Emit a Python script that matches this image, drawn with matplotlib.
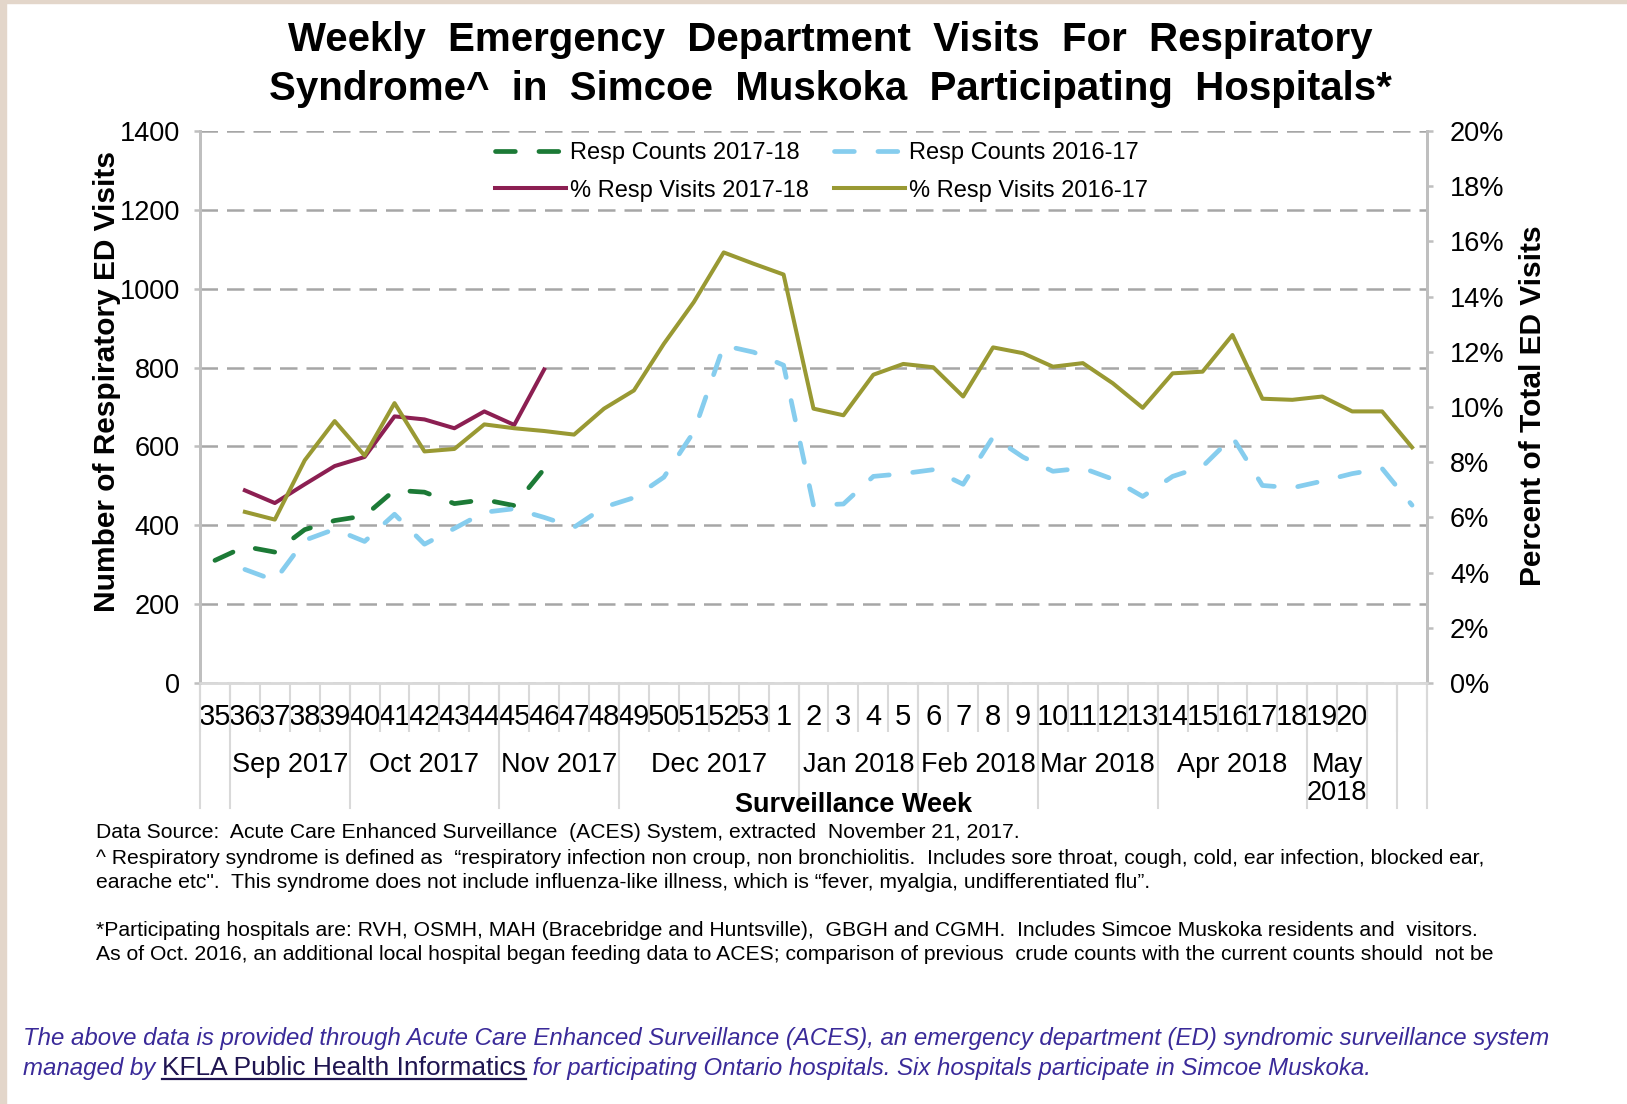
import numpy as np
import matplotlib
matplotlib.use('Agg')
import matplotlib.pyplot as plt
import matplotlib.transforms as mtransforms
from matplotlib.lines import Line2D
from matplotlib.patches import Rectangle

plt.rcParams['font.family'] = ['Liberation Sans', 'DejaVu Sans']

nan = np.nan

# surveillance weeks (last two columns carry no label)
weeks = ['35', '36', '37', '38', '39', '40', '41', '42', '43', '44', '45', '46', '47',
         '48', '49', '50', '51', '52', '53', '1', '2', '3', '4', '5', '6', '7', '8',
         '9', '10', '11', '12', '13', '14', '15', '16', '17', '18', '19', '20', '', '']

# month groups and how many weeks fall in each
months = ['', 'Sep 2017', 'Oct 2017', 'Nov 2017', 'Dec 2017', 'Jan 2018', 'Feb 2018',
          'Mar 2018', 'Apr 2018', 'May\n2018', '', '']
month_weeks = [1, 4, 5, 4, 6, 4, 4, 4, 5, 2, 1, 1]

counts_1718 = [311, 346, 332, 389, 412, 424, 489, 484, 455, 465, 450, 543] + [nan] * 29

counts_1617 = [nan, 288, 260, 362, 390, 359, 428, 352, 392, 433, 442, 420, 395, 446,
               470, 522, 637, 856, 839, 806, 451, 454, 524, 531, 541, 504, 624, 573,
               537, 545, 517, 473, 524, 549, 624, 501, 495, 512, 531, 544, 451]

pct_1718 = [nan, 6.98, 6.52, 7.2, 7.86, 8.19, 9.66, 9.55, 9.23, 9.84, 9.35, 11.36] + [nan] * 29

pct_1617 = [nan, 6.2, 5.92, 8.07, 9.49, 8.24, 10.14, 8.39, 8.48, 9.37, 9.23, 9.13, 9.0,
            9.94, 10.6, 12.29, 13.8, 15.6, 15.19, 14.8, 9.94, 9.7, 11.17, 11.56, 11.44,
            10.38, 12.16, 11.95, 11.46, 11.59, 10.86, 9.97, 11.22, 11.28, 12.61, 10.3,
            10.26, 10.38, 9.84, 9.84, 8.54]

W, H = 1627, 1104
fig = plt.figure(figsize=(W / 100, H / 100), dpi=100)

# beige frame on the left and top edge
fig.patches.append(Rectangle((0, 0), 6 / W, 1, transform=fig.transFigure, color='#e3d6ca', zorder=0))
fig.patches.append(Rectangle((0, 1 - 3 / H), 1, 3 / H, transform=fig.transFigure, color='#e3d6ca', zorder=0))

L, R, T, B = 200, 1427, 131, 683
ax = fig.add_axes([L / W, 1 - B / H, (R - L) / W, (B - T) / H])
ax2 = ax.twinx()

x = np.arange(len(weeks))
green = '#1c7a36'
blue = '#86cdee'
maroon = '#8c1f52'
olive = '#999933'

l1, = ax.plot(x, counts_1718, color=green, lw=3.4, dashes=(4.2, 5.0), dash_capstyle='round',
              label='Resp Counts 2017-18', zorder=3)
l2, = ax.plot(x, counts_1617, color=blue, lw=3.4, dashes=(4.2, 5.0), dash_capstyle='round',
              label='Resp Counts 2016-17', zorder=3)
l3, = ax2.plot(x, pct_1718, color=maroon, lw=2.9, label='% Resp Visits 2017-18', zorder=3)
l4, = ax2.plot(x, pct_1617, color=olive, lw=2.9, label='% Resp Visits 2016-17', zorder=3)

ax.set_xlim(-0.5, len(weeks) - 0.5)
ax.set_ylim(0, 1400)
ax2.set_ylim(0, 20)
ax.set_yticks(range(0, 1401, 200))
ax2.set_yticks(range(0, 21, 2))
ax2.set_yticklabels([f'{v}%' for v in range(0, 21, 2)])

ax.grid(axis='y', color='#a6a6a6', lw=1.8, linestyle=(0, (7, 3.6)))
ax.set_axisbelow(True)

for a in (ax, ax2):
    a.spines['top'].set_visible(False)
    a.spines['left'].set_color('#bfbfbf')
    a.spines['right'].set_color('#bfbfbf')
    a.spines['left'].set_linewidth(2)
    a.spines['right'].set_linewidth(2)
    a.spines['bottom'].set_color('#d9d9d9')
    a.spines['bottom'].set_linewidth(1.8)
ax.tick_params(axis='y', direction='out', length=4.5, width=1.8, color='#bfbfbf',
               labelsize=19.5, pad=10, labelcolor='black')
ax2.tick_params(axis='y', direction='out', length=4.5, width=1.8, color='#bfbfbf',
                labelsize=19.5, pad=12, labelcolor='black')

# week labels with short separators between categories
ax.set_xticks(x)
ax.set_xticklabels(weeks)
ax.tick_params(axis='x', which='major', length=0, labelsize=21, pad=14.5)
ax.set_xticks(np.arange(len(weeks) + 1) - 0.5, minor=True)
ax.tick_params(axis='x', which='minor', length=35, width=1.5, color='#d9d9d9', direction='out')

# month group labels and long separators
trans = mtransforms.blended_transform_factory(ax.transData, ax.transAxes)
edges = np.concatenate([[0], np.cumsum(month_weeks)]) - 0.5
for e in edges:
    ax.add_line(Line2D([e, e], [0, -125 / (B - T)], transform=trans, color='#d9d9d9',
                       lw=1.5, clip_on=False))
for name, a0, a1 in zip(months, edges[:-1], edges[1:]):
    if name:
        ax.text((a0 + a1) / 2, -69 / (B - T), name, transform=trans, ha='center', va='top',
                fontsize=19.5, linespacing=1.1)

fig.text(854 / W, 1 - 805 / H, 'Surveillance Week', ha='center', va='center',
         fontsize=19.5, fontweight='bold')
fig.text(107 / W, 1 - 382 / H, 'Number of Respiratory ED Visits', rotation=90,
         ha='center', va='center', fontsize=21.5, fontweight='bold')
fig.text(1533 / W, 1 - 406 / H, 'Percent of Total ED Visits', rotation=90,
         ha='center', va='center', fontsize=21.5, fontweight='bold')

fig.text(830 / W, 1 - 40 / H, 'Weekly  Emergency  Department  Visits  For  Respiratory',
         ha='center', va='center', fontsize=29, fontweight='bold')
fig.text(830 / W, 1 - 89 / H, 'Syndrome^  in  Simcoe  Muskoka  Participating  Hospitals*',
         ha='center', va='center', fontsize=29, fontweight='bold')

leg = ax2.legend(handles=[l1, l3, l2, l4], ncol=2, loc='upper left', frameon=False,
                 bbox_to_anchor=(281 / (R - L), 1.005), fontsize=17, handlelength=3.0,
                 handletextpad=0.15, columnspacing=1.1, labelspacing=0.65, borderaxespad=0.2)

notes = [
    (833, 'Data Source:  Acute Care Enhanced Surveillance  (ACES) System, extracted  November 21, 2017.'),
    (858, '^ Respiratory syndrome is defined as  \u201crespiratory infection non croup, non bronchiolitis.  Includes sore throat, cough, cold, ear infection, blocked ear,'),
    (882, 'earache etc".  This syndrome does not include influenza-like illness, which is \u201cfever, myalgia, undifferentiated flu\u201d.'),
    (931, '*Participating hospitals are: RVH, OSMH, MAH (Bracebridge and Huntsville),  GBGH and CGMH.  Includes Simcoe Muskoka residents and  visitors.'),
    (955, 'As of Oct. 2016, an additional local hospital began feeding data to ACES; comparison of previous  crude counts with the current counts should  not be'),
]
for yy, s in notes:
    fig.text(96 / W, 1 - yy / H, s, ha='left', va='center', fontsize=15.2)

navy = '#3a2a99'
fig.text(23 / W, 1 - 1038 / H,
         'The above data is provided through Acute Care Enhanced Surveillance (ACES), an emergency department (ED) syndromic surveillance system',
         ha='left', va='center', fontsize=17.25, style='italic', color=navy)

# second line with an underlined link in the middle
renderer = fig.canvas.get_renderer()
y2 = 1 - 1068 / H
t1 = fig.text(23 / W, y2, 'managed by ', ha='left', va='center', fontsize=17.3, style='italic', color=navy)
bb1 = t1.get_window_extent(renderer)
t2 = fig.text(bb1.x1 / W, y2, 'KFLA Public Health Informatics', ha='left', va='center',
              fontsize=19, color='#1f1450')
bb2 = t2.get_window_extent(renderer)
fig.add_artist(Line2D([bb2.x0 / W, bb2.x1 / W], [(bb2.y0 + 1) / H, (bb2.y0 + 1) / H],
                      transform=fig.transFigure, color='#1f1450', lw=1.6))
fig.text(bb2.x1 / W, y2, ' for participating Ontario hospitals. Six hospitals participate in Simcoe Muskoka.',
         ha='left', va='center', fontsize=17.3, style='italic', color=navy)

fig.savefig('out.png', dpi=100)
